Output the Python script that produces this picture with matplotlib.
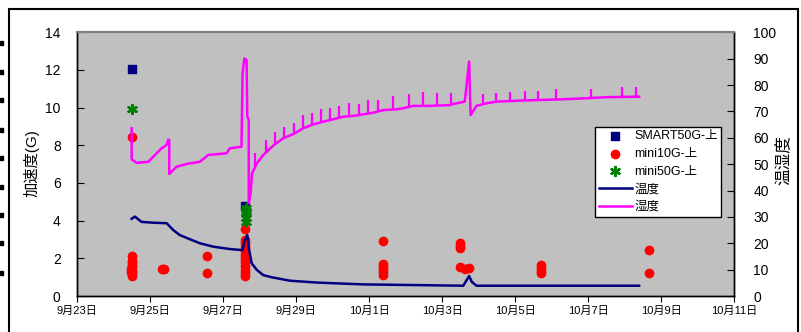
import numpy as np
import matplotlib.pyplot as plt
from matplotlib.patches import Rectangle

plt.rcParams['font.family'] = ['Liberation Sans', 'Noto Sans CJK JP', 'DejaVu Sans']

# x: days since 9/23 0:00
x_ticks = np.arange(0, 19, 2)
x_labels = ['9月23日', '9月25日', '9月27日', '9月29日', '10月1日',
            '10月3日', '10月5日', '10月7日', '10月9日', '10月11日']

# acceleration (G), left axis
smart_d = [1.49, 4.59]
smart_g = [12.05, 4.8]

mini50_d = [1.51, 4.62, 4.62, 4.62, 4.62, 4.62]
mini50_g = [9.93, 4.65, 4.5, 4.39, 4.15, 3.94]

mini10_d = [1.49, 1.49, 1.49, 1.49, 1.49, 1.49, 1.47, 1.51, 1.47, 1.51, 1.49, 1.49,
            2.33, 2.39, 3.56, 3.56,
            4.59, 4.59, 4.59, 4.59, 4.59, 4.59, 4.59, 4.59, 4.59, 4.59, 4.59, 4.59,
            8.37, 8.37, 8.37, 8.37, 8.37, 8.37,
            10.50, 10.50, 10.50, 10.50, 10.62, 10.74,
            12.70, 12.70, 12.70, 12.70,
            15.66, 15.66]
mini10_g = [8.42, 2.14, 1.85, 1.75, 1.65, 1.55, 1.45, 1.35, 1.25, 1.15, 1.05, 1.3,
            1.42, 1.42, 2.14, 1.24,
            3.56, 2.97, 2.8, 2.6, 2.4, 2.2, 2.0, 1.8, 1.6, 1.4, 1.2, 1.05,
            2.94, 1.7, 1.55, 1.42, 1.25, 1.12,
            2.81, 2.67, 2.53, 1.56, 1.42, 1.47,
            1.65, 1.5, 1.35, 1.2,
            2.44, 1.24]

# temperature / humidity, right axis
temp_d = [1.49, 1.58, 1.76, 2.08, 2.45, 2.63, 2.81, 3.09, 3.36, 3.73, 4.18, 4.53,
          4.59, 4.66, 4.71, 4.78, 4.92, 5.10, 5.33, 5.83, 6.56, 7.84, 10.58, 10.74,
          10.81, 10.94, 15.40]
temp_v = [29.3, 30.1, 28.1, 27.8, 27.6, 25.0, 23.1, 21.5, 20.0, 18.7, 17.8, 17.4,
          21.2, 23.1, 17.4, 12.4, 9.9, 7.9, 7.1, 5.8, 5.1, 4.4, 3.9, 7.6,
          5.4, 3.9, 3.9]

hum_d = [1.49, 1.49, 1.63, 1.95, 2.13, 2.31, 2.45, 2.49, 2.52, 2.52, 2.72, 3.00,
         3.36, 3.59, 4.09, 4.18, 4.50, 4.53, 4.58, 4.64, 4.66, 4.70, 4.70, 4.75,
         4.79, 4.92, 5.10, 5.37, 5.64, 5.92, 6.19, 6.47, 6.74, 7.01, 7.29, 7.56,
         7.84, 8.11, 8.38, 8.75, 8.93, 9.21, 9.66, 10.21, 10.30, 10.62, 10.74,
         10.78, 10.94, 11.22, 11.49, 12.13, 13.32, 13.96, 14.50, 15.40]
hum_v = [63.6, 51.8, 50.5, 50.9, 53.5, 56.0, 57.3, 59.2, 59.2, 46.3, 49.0, 50.1,
         50.9, 53.5, 54.1, 56.0, 56.6, 84.5, 90.1, 89.5, 68.0, 66.7, 35.2, 38.9,
         46.5, 50.3, 53.5, 57.0, 59.8, 61.4, 63.6, 65.1, 66.1, 67.0, 68.0, 68.3,
         68.9, 69.5, 70.5, 70.8, 71.2, 72.1, 72.1, 72.4, 72.8, 73.7, 88.9,
         68.6, 72.1, 73.1, 73.7, 74.1, 74.6, 75.0, 75.4, 75.6]

spike_d = [4.87, 5.16, 5.42, 5.67, 5.94, 6.20, 6.42, 6.68, 6.92, 7.18, 7.44, 7.72,
           7.97, 8.24, 8.66, 9.09, 9.48, 9.85, 10.23, 11.12, 11.49, 11.85, 12.27,
           12.63, 13.13, 14.09, 14.92, 15.31]
spike_v = [54.1, 59.2, 62.2, 64.0, 65.7, 68.5, 69.5, 70.8, 71.4, 72.1, 73.1, 72.8,
           74.3, 74.3, 75.8, 76.6, 77.5, 77.1, 77.1, 76.6, 77.1, 77.5, 77.9,
           77.9, 78.5, 78.5, 79.4, 79.4]

fig = plt.figure(figsize=(8.01, 3.32), dpi=100)
ax = fig.add_axes([77.3 / 801, 36 / 332, 656.7 / 801, 263.7 / 332])
ax.set_facecolor('#C0C0C0')
ax2 = ax.twinx()

s1 = ax.scatter(smart_d, smart_g, marker='s', s=26, color='#000080', zorder=3,
                label='SMART50G-上')
s2 = ax.scatter(mini10_d, mini10_g, marker='o', s=36, color='#FF0000', zorder=3,
                label='mini10G-上')
s3 = ax.scatter(mini50_d, mini50_g, marker=(6, 2, 0), s=40, color='#008000',
                linewidths=1.8, zorder=3, label='mini50G-上')

l1, = ax2.plot(temp_d, temp_v, color='#000080', lw=1.8, label='温度')
l2, = ax2.plot(hum_d, hum_v, color='#FF00FF', lw=1.8, label='湿度')
ax2.vlines(spike_d, np.interp(spike_d, hum_d, hum_v), spike_v, color='#FF00FF', lw=1.6)

ax.set_xlim(0, 18)
ax.set_ylim(0, 14)
ax2.set_ylim(0, 100)
ax.set_xticks(x_ticks)
ax.set_xticklabels(x_labels, fontsize=8)
ax.set_yticks(np.arange(0, 15, 2))
ax2.set_yticks(np.arange(0, 101, 10))
ax.tick_params(axis='y', direction='in', length=5, labelsize=10, pad=12)
ax2.tick_params(axis='y', direction='in', length=5, labelsize=10, pad=14)
ax.tick_params(axis='x', direction='out', length=4, pad=3)

for a in (ax, ax2):
    a.spines['top'].set_color('#808080')
    a.spines['top'].set_linewidth(1.5)
    for s in ('left', 'right', 'bottom'):
        a.spines[s].set_linewidth(1.0)

fig.text(31.5 / 801, 1 - 163 / 332, '加速度(G)', rotation=90, ha='center', va='center',
         fontsize=11)
fig.text(783 / 801, 1 - 160 / 332, '温湿度', rotation=90, ha='center', va='center',
         fontsize=12)

leg = ax2.legend([s1, s2, s3, l1, l2], [h.get_label() for h in (s1, s2, s3, l1, l2)],
                 loc='upper left', bbox_to_anchor=(0.789, 0.642), borderaxespad=0,
                 fontsize=9, frameon=True, fancybox=False, framealpha=1,
                 edgecolor='black', borderpad=0.3, labelspacing=0.45,
                 handlelength=2.6, handletextpad=0.2)
leg.get_frame().set_linewidth(1.0)

# outer frame and the stray marks on the left edge
fig.patches.append(Rectangle((9 / 801, -0.1), 789 / 801, 1.1 - 9 / 332,
                             transform=fig.transFigure, fill=False, lw=1.5,
                             edgecolor='black'))
for y in [43, 72, 100, 130, 158, 187, 215, 243, 273]:
    fig.patches.append(Rectangle((0, 1 - (y + 2) / 332), 3 / 801, 4 / 332,
                                 transform=fig.transFigure, color='black'))

plt.savefig('out.png', dpi=100)
